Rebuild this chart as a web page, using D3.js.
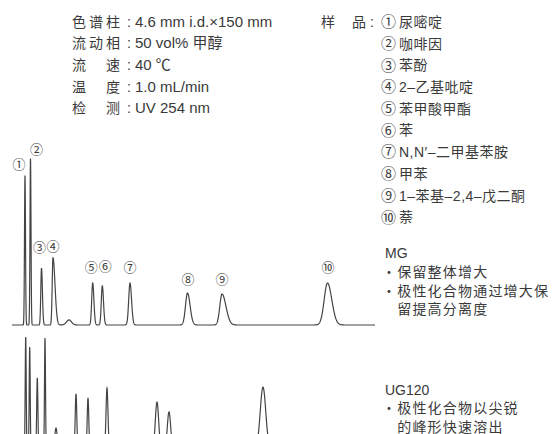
<!DOCTYPE html>
<html lang="zh">
<head>
  <meta charset="UTF-8">
  <title>MG / UG120 色谱图</title>
  <style>
    body { margin: 0; background: #fff; }
    svg { display: block; }
    text { fill: #3a3a3a; font-family: "Liberation Sans", "Noto Sans CJK SC", sans-serif; font-size: 14px; }
  </style>
</head>
<body>
  <script src="https://d3js.org/d3.v7.min.js"></script>
  <script>
    const width = 553, height = 434;

    // conditions (left block)
    const condLabels = [["色", "谱", "柱"], ["流", "动", "相"], ["流", "", "速"], ["温", "", "度"], ["检", "", "测"]];
    const condValues = ["4.6 mm i.d.×150 mm", "50 vol% 甲醇", "40 ℃", "1.0 mL/min", "UV 254 nm"];

    // samples
    const sampleNums = ["①", "②", "③", "④", "⑤", "⑥", "⑦", "⑧", "⑨", "⑩"];
    const sampleNames = ["尿嘧啶", "咖啡因", "苯酚", "2–乙基吡啶", "苯甲酸甲酯", "苯",
      "N,N′–二甲基苯胺", "甲苯", "1–苯基–2,4–戊二酮", "萘"];

    // MG peaks: retention (min), height, sigma, tailing
    const mgTime   = [1.3, 1.85, 2.95, 4.1, 5.7, 8.07, 9.03, 11.8, 17.55, 21.0, 31.55];
    const mgHeight = [88, 98, 33.5, 39.5, 3, 24.7, 23, 24.7, 18.8, 18.2, 24.7];
    const mgSigma  = [0.05, 0.05, 0.07, 0.08, 0.25, 0.1, 0.1, 0.13, 0.2, 0.22, 0.33];
    const mgTail   = [0, 0, 0.3, 1.5, 0, 0.2, 0.2, 0.2, 0.3, 0.8, 0.3];
    const mgLabel  = ["①", "②", "③", "④", "", "⑤", "⑥", "⑦", "⑧", "⑨", "⑩"];

    // UG120 peaks
    const ugTime   = [1.37, 1.77, 2.53, 3.3, 4.4, 6.4, 7.6, 9.5, 14.5, 15.7, 25.1];
    const ugHeight = [66.5, 60.6, 42.4, 65.9, 12.9, 33, 30.6, 36.5, 28.2, 22.4, 37];
    const ugSigma  = [0.05, 0.05, 0.06, 0.05, 0.12, 0.08, 0.08, 0.1, 0.17, 0.17, 0.28];

    const mgNotes = ["MG", "・保留整体增大", "・极性化合物通过增大保", "　留提高分离度"];
    const ugNotes = ["UG120", "・极性化合物以尖锐", "　的峰形快速溶出"];

    const svg = d3.select("body").append("svg")
      .attr("width", width)
      .attr("height", height);

    // scales
    const x = d3.scaleLinear().domain([0, 36.3]).range([12, 375]);
    const yMG = d3.scaleLinear().domain([0, 100]).range([325, 155]);
    const yUG = d3.scaleLinear().domain([0, 100]).range([450, 280]);

    function signal(t, times, heights, sigmas, tails) {
      let s = 0;
      for (let i = 0; i < times.length; i++) {
        let sd = sigmas[i];
        if (t > times[i] && tails) sd = sd * (1 + tails[i]);
        const z = (t - times[i]) / sd;
        s += heights[i] * Math.exp(-0.5 * z * z);
      }
      return s;
    }

    const ts = d3.range(0, 36.3 + 1e-9, 0.01);

    const line = d3.line().x(d => x(d[0])).y(d => d[1]);

    svg.append("path")
      .attr("d", line(ts.map(t => [t, yMG(signal(t, mgTime, mgHeight, mgSigma, mgTail))])))
      .attr("fill", "none")
      .attr("stroke", "#444")
      .attr("stroke-width", 1.2);

    const ugTs = ts.filter(t => t <= 30);
    svg.append("path")
      .attr("d", line(ugTs.map(t => [t, yUG(signal(t, ugTime, ugHeight, ugSigma, null))])))
      .attr("fill", "none")
      .attr("stroke", "#444")
      .attr("stroke-width", 1.2);

    // peak labels
    const labelOffset = { "①": [-6, -11], "②": [6, -9], "③": [-2, -21], "④": [0, -11], "⑤": [-1.5, -16],
      "⑥": [3, -19], "⑦": [0, -16], "⑧": [0.5, -14], "⑨": [0, -15], "⑩": [0.5, -16] };
    mgLabel.forEach((lab, i) => {
      if (!lab) return;
      const o = labelOffset[lab];
      svg.append("text")
        .attr("x", x(mgTime[i]) + o[0])
        .attr("y", yMG(mgHeight[i]) + o[1])
        .attr("dy", "0.35em")
        .attr("text-anchor", "middle")
        .style("font-family", "Noto Sans CJK SC")
        .style("font-size", "13px")
        .text(lab);
    });

    // conditions
    const condY = [22, 43, 65, 87, 108];
    const charX = [72, 89, 106];
    condLabels.forEach((lab, i) => {
      lab.forEach((c, j) => {
        if (!c) return;
        svg.append("text").attr("x", charX[j]).attr("y", condY[i]).attr("dy", "0.35em")
          .style("font-family", "Noto Sans CJK SC").text(c);
      });
      svg.append("text").attr("x", 127).attr("y", condY[i]).attr("dy", "0.35em")
        .text(":");
      svg.append("text").attr("x", 135).attr("y", condY[i]).attr("dy", "0.35em")
        .style("font-size", "15px")
        .text(condValues[i]);
    });

    // samples
    svg.append("text").attr("x", 321).attr("y", 22).attr("dy", "0.35em")
      .style("font-family", "Noto Sans CJK SC").text("样");
    svg.append("text").attr("x", 352).attr("y", 22).attr("dy", "0.35em")
      .style("font-family", "Noto Sans CJK SC").text("品");
    svg.append("text").attr("x", 370).attr("y", 22).attr("dy", "0.35em")
      .text(":");
    sampleNums.forEach((n, i) => {
      const yy = 22 + i * 21.7;
      svg.append("text").attr("x", 381).attr("y", yy).attr("dy", "0.35em")
        .style("font-family", "Noto Sans CJK SC")
        .style("font-size", "15px")
        .text(n);
      svg.append("text").attr("x", 399).attr("y", yy).attr("dy", "0.35em")
        .style("letter-spacing", "0.5px")
        .text(sampleNames[i]);
    });

    // notes
    const mgY = [253, 272, 291, 309];
    mgNotes.forEach((s, i) => {
      svg.append("text").attr("x", i === 0 ? 385 : 382).attr("y", mgY[i]).attr("dy", "0.35em")
        .style("letter-spacing", i === 0 ? "0px" : "1.2px")
        .text(s);
    });
    const ugY = [390, 408, 427];
    ugNotes.forEach((s, i) => {
      svg.append("text").attr("x", i === 0 ? 385 : 382).attr("y", ugY[i]).attr("dy", "0.35em")
        .style("letter-spacing", i === 0 ? "0px" : "1.2px")
        .text(s);
    });
  </script>
</body>
</html>
